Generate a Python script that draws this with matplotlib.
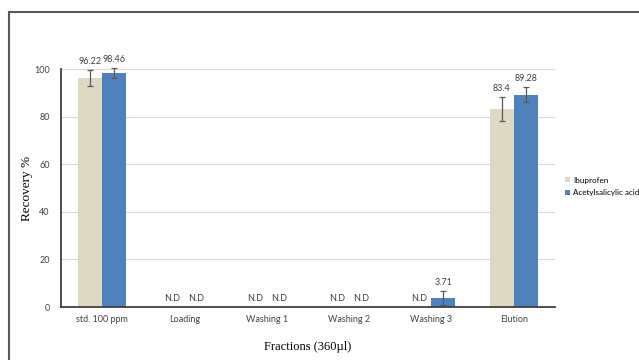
import numpy as np
import matplotlib
matplotlib.use("Agg")
import matplotlib.pyplot as plt
from matplotlib.patches import Patch, Rectangle

# recovery per fraction (NaN = not detected)
fractions = ["std. 100 ppm", "Loading", "Washing 1", "Washing 2", "Washing 3", "Elution"]
ibuprofen = [96.22, np.nan, np.nan, np.nan, np.nan, 83.4]
ibuprofen_err = [3.4, 0, 0, 0, 0, 5.0]
aspirin = [98.46, np.nan, np.nan, np.nan, 3.71, 89.28]
aspirin_err = [2.0, 0, 0, 0, 3.0, 3.1]
series_names = ["Ibuprofen", "Acetylsalicylic acid"]
colors = ["#DDD9C4", "#4F81BD"]

label_font = "Lato"
text_gray = "#404040"

fig = plt.figure(figsize=(6.39, 3.6), dpi=100)
ax = fig.add_axes([0.0955, 0.147, 0.773, 0.661])

x = np.arange(len(fractions)) + 0.5
w = 0.29
for i, (vals, errs, col) in enumerate(zip([ibuprofen, aspirin], [ibuprofen_err, aspirin_err], colors)):
    pos = x + (i - 0.5) * w
    heights = np.nan_to_num(np.array(vals, dtype=float))
    ax.bar(pos, heights, width=w, color=col, zorder=2)
    for px, v, e in zip(pos, vals, errs):
        if np.isnan(v):
            ax.annotate("N.D", (px, 3.5), ha="center", va="center",
                        fontsize=6.5, family=label_font, color=text_gray)
            continue
        eb = ax.errorbar(px, v, yerr=e, fmt="none", ecolor="#595959",
                         elinewidth=0.9, capsize=2.2, capthick=0.9, zorder=3)
        for art in eb.lines[1] + eb.lines[2]:
            art.set_clip_on(False)
        ax.annotate(f"{v:g}", (px, v + e), xytext=(0, 3), textcoords="offset points",
                    ha="center", va="bottom", fontsize=6.5, family=label_font,
                    color=text_gray, annotation_clip=False)

ax.set_xlim(0, len(fractions))
ax.set_ylim(0, 100)
ax.set_yticks(range(0, 101, 20))
ax.set_xticks(x)
ax.set_xticklabels(fractions)
ax.tick_params(length=0, labelsize=6.5, labelcolor=text_gray)
ax.tick_params(axis="y", pad=8)
ax.tick_params(axis="x", pad=6)
for lbl in ax.get_xticklabels() + ax.get_yticklabels():
    lbl.set_family(label_font)

ax.grid(axis="y", color="#D9D9D9", linewidth=0.8, zorder=0)
ax.set_axisbelow(True)
for side in ["top", "right"]:
    ax.spines[side].set_visible(False)
for side in ["left", "bottom"]:
    ax.spines[side].set_color("#404040")
    ax.spines[side].set_linewidth(1.3)

ax.set_ylabel("Recovery %", family="Liberation Serif", fontsize=9.5, labelpad=1)
ax.set_xlabel("Fractions (360\u00b5l)", family="Liberation Serif", fontsize=9, labelpad=12)

handles = [Patch(facecolor=c) for c in colors]
fig.legend(handles, series_names, loc="center left", bbox_to_anchor=(0.884, 0.482),
           frameon=False, prop={"family": label_font, "size": 5.8},
           handlelength=0.6, handleheight=0.6, handletextpad=0.4, labelspacing=0.7,
           borderaxespad=0, borderpad=0)

# outer frame around the chart area
fig.patches.append(Rectangle((9 / 639, -0.1), 1.2, 1.1 - 12 / 360, transform=fig.transFigure,
                             fill=False, edgecolor="#595959", linewidth=1.5, clip_on=False))

fig.savefig("out.png", dpi=100)
